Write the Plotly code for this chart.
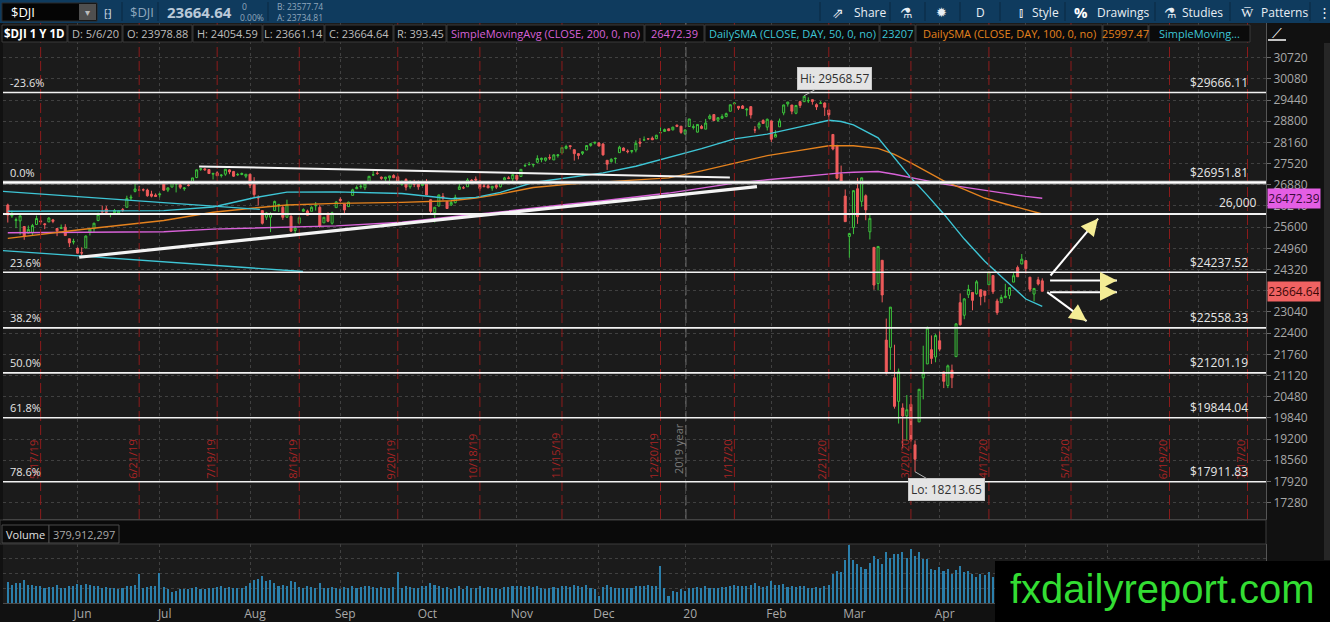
import pandas as pd
import plotly.graph_objects as go

W, H = 1330, 622
FONT = "Open Sans"
BG = "#1b1b1b"
GRID = "#404040"
GREEN = "#3cc43c"
RED = "#ef5b5b"
CYAN = "#3ec6d6"
ORANGE = "#e4821e"
MAGENTA = "#d862d8"
TXT = "#bdbdbd"

# trading calendar (weekends and NYSE holidays skipped), chart runs into late July 2020
HOLIDAYS = ["2019-05-27", "2019-07-04", "2019-09-02", "2019-11-28", "2019-12-25",
            "2020-01-01", "2020-01-20", "2020-02-17", "2020-04-10", "2020-05-25", "2020-07-03"]
EXPIRATIONS = ["2019-05-17", "2019-06-21", "2019-07-19", "2019-08-16", "2019-09-20",
               "2019-10-18", "2019-11-15", "2019-12-20", "2020-01-17", "2020-02-21",
               "2020-03-20", "2020-04-17", "2020-05-15", "2020-06-19", "2020-07-17"]

# $DJI daily candles, 5/7/19 .. 5/6/20
opens = [
    # May 19
    26270, 25940, 25800, 25790, 25620, 25420, 25430, 25680, 25790, 25700, 25760, 25820, 25560, 25560, 25600, 25250, 25150, 24960,
    # Jun
    24830, 24970, 25450, 25550, 25800, 26080, 26150, 26000, 26040, 26030, 26130, 26200, 26480, 26680, 26720, 26730, 26720, 26600, 26570, 26580,
    # Jul
    26960, 26720, 26810, 26900, 26880, 26760, 26870, 26930, 27100, 27350, 27360, 27340, 27200, 27240, 27160, 27200, 27330, 27280, 27180, 27190, 27140, 27200,
    # Aug
    26900, 26500, 26100, 25900, 25900, 26100, 26280, 26200, 25900, 25930, 25500, 25720, 26080, 26090, 26080, 26250, 26200, 25730, 26010, 25720, 26190, 26440,
    # Sep
    26300, 26220, 26560, 26760, 26820, 26790, 26940, 27180, 27230, 27110, 27060, 27090, 27160, 27120, 26890, 27040, 26820, 26980, 26920, 26860,
    # Oct
    26960, 26430, 26040, 26240, 26530, 26380, 26270, 26340, 26740, 26790, 26820, 27020, 27050, 26990, 26850, 26850, 26780, 26860, 26820, 27030, 27090, 27060, 27170,
    # Nov
    27130, 27450, 27490, 27480, 27560, 27640, 27620, 27700, 27630, 27760, 27840, 27980, 28060, 27940, 27820, 27830, 27930, 28070, 28140, 28140,
    # Dec
    28110, 27620, 27580, 27670, 27850, 27990, 27900, 27890, 27930, 28170, 28230, 28270, 28290, 28270, 28450, 28490, 28570, 28540, 28680, 28650, 28420,
    # Jan 20
    28640, 28610, 28470, 28640, 28560, 28880, 29000, 28830, 28890, 28940, 29100, 29320, 29250, 29260, 29140, 29240, 28540, 28620, 28820, 28620, 28810,
    # Feb
    28320, 28630, 29050, 29320, 29290, 29040, 29390, 29390, 29410, 29450, 29300, 29340, 29350, 29140, 28400, 28050, 27210, 26540, 25320,
    # Mar
    25590, 26760, 26380, 26550, 25460, 24990, 23900, 24600, 22190, 21970, 21050, 20340, 20140, 19900, 20250, 19030, 19720, 21050, 21470, 21900, 21680, 22170,
    # Apr
    21230, 20820, 21280, 21690, 23320, 22940, 23560, 23630, 23590, 23710, 23670, 23860, 24140, 23370, 23320, 23470, 23540, 23940, 24380, 24490, 24590,
    # May 20
    24090, 23580, 24010, 23978.88,
]
highs = [
    26310, 26100, 25890, 25990, 25620, 25650, 25700, 25950, 25920, 25720, 25900, 25850, 25570, 25680, 25690, 25250, 25250, 24990,
    24990, 25350, 25560, 25730, 26040, 26250, 26240, 26030, 26150, 26100, 26180, 26550, 26580, 26910, 26850, 26770, 26760, 26700, 26620, 26640,
    27000, 26800, 26970, 26960, 26920, 26810, 26950, 27090, 27340, 27380, 27390, 27350, 27240, 27290, 27200, 27350, 27350, 27300, 27240, 27250, 27200, 27210,
    27110, 26560, 26100, 26050, 26050, 26400, 26300, 26250, 26430, 25960, 25640, 25930, 26170, 26130, 26230, 26360, 26270, 25900, 26050, 26070, 26390, 26500,
    26300, 26370, 26760, 26860, 26900, 26910, 27140, 27300, 27290, 27130, 27120, 27150, 27200, 27160, 27010, 27080, 27020, 27030, 27010, 27000,
    27050, 26450, 26210, 26580, 26630, 26390, 26400, 26580, 27000, 26840, 27080, 27050, 27130, 27020, 26900, 26950, 26840, 26900, 26970, 27120, 27140, 27200, 27170,
    27350, 27520, 27570, 27500, 27770, 27700, 27700, 27800, 27800, 27800, 28010, 28090, 28070, 27950, 27840, 27890, 28070, 28130, 28170, 28170,
    28140, 27620, 27680, 27700, 28060, 28010, 27950, 27920, 28220, 28290, 28340, 28290, 28340, 28390, 28610, 28580, 28580, 28630, 28700, 28650, 28550,
    28870, 28710, 28710, 28690, 28870, 29010, 29010, 28910, 29010, 29060, 29300, 29370, 29250, 29290, 29200, 29250, 28650, 28780, 28860, 28880, 28820,
    28530, 28880, 29300, 29380, 29290, 29280, 29420, 29568.57, 29520, 29460, 29340, 29410, 29370, 29140, 28400, 28090, 27460, 26740, 25430,
    26710, 27090, 27100, 26590, 25990, 24990, 25020, 24600, 22840, 23190, 22050, 21330, 20280, 20530, 20530, 19160, 20700, 22020, 22600, 22330, 22380, 22450,
    21230, 21450, 21450, 22700, 23600, 23460, 23860, 23630, 24000, 23710, 23670, 24260, 24140, 23440, 23560, 23890, 23790, 24220, 24440, 24790, 24590,
    24090, 23760, 24100, 24054.59,
]
lows = [
    25740, 25880, 25570, 25370, 25220, 25420, 25360, 25670, 25690, 25540, 25750, 25720, 25330, 25540, 25340, 25000, 25080, 24810,
    24680, 24970, 25350, 25450, 25780, 26040, 25980, 25900, 26030, 25980, 26060, 26200, 26420, 26650, 26690, 26680, 26520, 26500, 26520, 26500,
    26700, 26660, 26810, 26650, 26750, 26700, 26830, 26900, 27080, 27300, 27300, 27210, 27040, 27150, 27100, 27150, 27200, 27120, 27150, 27170, 27080, 26780,
    26500, 26250, 25680, 25820, 25450, 26100, 26060, 25820, 25880, 25460, 25340, 25720, 26070, 25960, 26080, 26100, 25580, 25730, 25750, 25680, 26190, 26350,
    25980, 26220, 26560, 26750, 26760, 26720, 26920, 27150, 27180, 27030, 27000, 26880, 27080, 26880, 26850, 26710, 26760, 26810, 26730, 26850,
    26570, 26020, 25740, 26220, 26410, 26160, 26240, 26320, 26740, 26750, 26820, 26930, 26990, 26700, 26800, 26780, 26700, 26750, 26800, 27030, 27050, 26980, 26950,
    27120, 27420, 27460, 27410, 27530, 27560, 27580, 27630, 27630, 27700, 27840, 27950, 27950, 27610, 27650, 27780, 27930, 28030, 28100, 28040,
    27760, 27330, 27550, 27530, 27850, 27900, 27830, 27830, 27860, 28020, 28230, 28230, 28230, 28260, 28400, 28480, 28500, 28520, 28620, 28420, 28380,
    28640, 28550, 28460, 28560, 28560, 28850, 28800, 28780, 28870, 28920, 29100, 29280, 29140, 29170, 28950, 28880, 28440, 28550, 28720, 28520, 28170,
    28320, 28630, 28980, 29240, 29010, 29010, 29200, 29380, 29350, 29300, 29140, 29320, 28960, 28800, 27920, 27050, 26910, 25760, 24680,
    25390, 25700, 26220, 25810, 25230, 23710, 23690, 23330, 21150, 21290, 20120, 19670, 18920, 19140, 19120, 18213.65, 19720, 20400, 21470, 21470, 21520, 21850,
    20740, 20740, 20740, 21690, 22630, 22820, 23460, 23090, 23560, 23240, 23330, 23860, 23580, 22950, 23320, 23470, 23430, 23940, 24100, 24480, 24200,
    23650, 23360, 23840, 23661.14,
]
closes = [
    25965, 25967, 25828, 25942, 25324, 25532, 25648, 25862, 25764, 25679, 25877, 25776, 25490, 25586, 25347, 25126, 25170, 24815,
    24820, 25332, 25540, 25720, 25984, 26062, 26049, 26005, 26106, 26090, 26112, 26466, 26504, 26753, 26719, 26727, 26548, 26537, 26526, 26600,
    26718, 26787, 26966, 26922, 26806, 26784, 26860, 27088, 27332, 27359, 27336, 27220, 27223, 27154, 27172, 27349, 27270, 27140, 27192, 27221, 27198, 26864,
    26583, 26485, 25718, 26030, 26008, 26378, 26287, 25897, 26280, 25479, 25579, 25886, 26136, 25962, 26202, 26252, 25629, 25899, 25778, 26036, 26362, 26403,
    26118, 26355, 26728, 26797, 26835, 26909, 27137, 27182, 27220, 27076, 27111, 27147, 27094, 26935, 26950, 26808, 26970, 26891, 26820, 26917,
    26573, 26079, 26202, 26573, 26478, 26164, 26347, 26497, 26817, 26787, 27025, 27002, 27026, 26770, 26827, 26788, 26834, 26806, 26958, 27091, 27071, 27186, 27046,
    27347, 27462, 27493, 27493, 27675, 27681, 27691, 27691, 27784, 27782, 28005, 28036, 28036, 27821, 27767, 27876, 28066, 28122, 28164, 28051,
    27783, 27503, 27650, 27678, 28015, 27910, 27882, 27911, 28132, 28135, 28235, 28268, 28239, 28377, 28455, 28551, 28516, 28621, 28645, 28462, 28538,
    28868, 28634, 28703, 28584, 28745, 28957, 28823, 28907, 28940, 29030, 29297, 29348, 29196, 29186, 29160, 28990, 28536, 28723, 28734, 28859, 28256,
    28400, 28808, 29291, 29380, 29103, 29276, 29277, 29551, 29424, 29398, 29232, 29348, 29220, 28992, 27961, 27081, 26957, 25767, 25409,
    26703, 25917, 27091, 26121, 25865, 23851, 25018, 23553, 21200, 23186, 20189, 21237, 19899, 20087, 19174, 18592, 20705, 21200, 22552, 21637, 22327, 21917,
    20944, 21413, 21053, 22680, 22654, 23434, 23719, 23390, 23950, 23505, 23538, 24242, 23650, 23019, 23476, 23516, 23775, 24134, 24102, 24634, 24346,
    23724, 23750, 23883, 23664.64,
]
# volume, millions of shares
volume_m = [
    340, 300, 320, 330, 380, 300, 290, 270, 280, 250, 260, 260, 290, 250, 240, 280, 270, 310,
    290, 310, 300, 280, 270, 250, 260, 250, 240, 230, 240, 270, 280, 300, 480, 250, 260, 280, 270, 490,
    260, 230, 180, 200, 220, 220, 230, 240, 260, 230, 220, 240, 250, 260, 270, 250, 260, 250, 240, 250, 270, 330,
    380, 390, 440, 360, 380, 330, 280, 300, 270, 360, 340, 260, 250, 270, 260, 250, 330, 240, 250, 260, 250, 230,
    260, 250, 270, 240, 260, 280, 270, 260, 250, 260, 240, 250, 260, 510, 250, 280, 260, 240, 250, 270,
    280, 320, 300, 270, 240, 260, 230, 250, 280, 230, 270, 250, 240, 280, 240, 260, 250, 250, 230, 260, 260, 280, 270,
    280, 260, 270, 260, 270, 240, 230, 250, 260, 240, 280, 270, 260, 300, 270, 260, 290, 250, 220, 110,
    260, 290, 260, 240, 250, 240, 250, 240, 280, 270, 280, 290, 270, 270, 600, 250, 110, 200, 180, 220, 200,
    250, 240, 260, 250, 270, 250, 240, 250, 260, 260, 270, 300, 270, 280, 270, 300, 330, 270, 260, 280, 350,
    290, 300, 310, 260, 280, 260, 270, 280, 250, 250, 260, 250, 270, 300, 470, 520, 500, 700, 950,
    700, 640, 580, 560, 650, 760, 720, 640, 830, 740, 800, 790, 830, 740, 880, 760, 830, 720, 710, 560, 530, 580,
    520, 550, 480, 530, 600, 500, 520, 480, 420, 480, 450, 500, 420, 400, 430, 390, 380, 400, 410, 460, 480,
    420, 360, 380, 379.912297,
]

# moving averages
sma_dates = ["2019-05-07", "2019-06-03", "2019-07-01", "2019-07-18", "2019-08-01", "2019-08-13",
             "2019-08-29", "2019-09-23", "2019-10-09", "2019-10-17", "2019-10-25", "2019-11-06",
             "2019-11-19", "2019-12-02", "2019-12-12", "2019-12-24", "2020-01-07", "2020-01-17",
             "2020-01-30", "2020-02-11", "2020-02-21", "2020-02-26", "2020-03-02", "2020-03-10",
             "2020-03-16", "2020-03-20", "2020-03-26", "2020-04-01", "2020-04-08", "2020-04-16",
             "2020-04-23", "2020-04-30", "2020-05-06"]
sma50 = [26080, 26080, 26100, 26210, 26490, 26660, 26665, 26615, 26460, 26500, 26650, 26950,
         27110, 27240, 27440, 27710, 27970, 28265, 28410, 28630, 28830, 28790, 28690, 28300,
         27690, 27090, 26560, 26000, 25240, 24570, 24000, 23430, 23207]
sma100 = [25260, 25530, 25800, 26050, 26180, 26270, 26320, 26350, 26400, 26480, 26600, 26800,
          26900, 26960, 27030, 27090, 27300, 27530, 27760, 27920, 28060, 28060, 28060, 27980,
          27800, 27540, 27270, 27000, 26740, 26480, 26300, 26120, 25997.47]
sma200 = [25430, 25440, 25460, 25540, 25570, 25600, 25640, 25750, 25920, 25990, 26060, 26180,
          26300, 26400, 26520, 26630, 26780, 26930, 27030, 27120, 27220, 27240, 27260, 27280,
          27200, 27110, 27000, 26900, 26800, 26720, 26620, 26530, 26472.39]

fib_levels = [29666.11, 26951.81, 24237.52, 22558.33, 21201.19, 19844.04, 17911.83]
fib_names = ["-23.6%", "0.0%", "23.6%", "38.2%", "50.0%", "61.8%", "78.6%"]
level_26k = 26000
price_ticks = list(range(17280, 30721, 640))

calendar = [d for d in pd.bdate_range("2019-05-07", "2020-07-31")
            if d.strftime("%Y-%m-%d") not in HOLIDAYS]
day_index = {d.strftime("%Y-%m-%d"): i for i, d in enumerate(calendar)}
x_idx = list(range(len(closes)))


def px(x):
    return x / W


def py(y):
    return 1 - y / H


X_RANGE = [-1.17, 306.5]
Y_RANGE = [16787, 31766]

fig = go.Figure()

fig.add_trace(go.Candlestick(
    x=x_idx, open=opens, high=highs, low=lows, close=closes,
    increasing=dict(line=dict(color=GREEN, width=1), fillcolor=BG),
    decreasing=dict(line=dict(color=RED, width=1), fillcolor=RED),
    whiskerwidth=0, hoverinfo="skip", showlegend=False))

sma_x = [day_index[d] for d in sma_dates]
for vals, color in [(sma200, MAGENTA), (sma100, ORANGE), (sma50, CYAN)]:
    fig.add_trace(go.Scatter(x=sma_x, y=vals, mode="lines", line=dict(color=color, width=1.4),
                             hoverinfo="skip", showlegend=False))

fig.add_trace(go.Bar(x=x_idx, y=volume_m, marker=dict(color="#2b7fab", line=dict(width=0)),
                     width=0.38, xaxis="x2", yaxis="y2", hoverinfo="skip", showlegend=False))

# month gridlines sit one bar before the first session of the month;
# labels from May 2020 on sit under the watermark box, so they stay blank
month_pos, month_txt = [], []
for i in range(1, len(calendar)):
    if calendar[i].month != calendar[i - 1].month:
        month_pos.append(i - 1)
        if i >= len(closes) - 6:
            month_txt.append("")
        else:
            month_txt.append("20" if calendar[i].month == 1 else calendar[i].strftime("%b"))

# the last-close tag covers the 23680 label, as in the platform
last_tag_tick = 23680
price_text = ["" if v == last_tag_tick else str(v) for v in price_ticks]

shapes = []
annos = []


def line(x0, y0, x1, y1, color, width=1, dash="solid", xref="x", yref="y"):
    shapes.append(dict(type="line", x0=x0, y0=y0, x1=x1, y1=y1, xref=xref, yref=yref,
                       line=dict(color=color, width=width, dash=dash), layer="above"))


def rect(x0, y0, x1, y1, fill, border=None):
    shapes.append(dict(type="rect", xref="paper", yref="paper", x0=px(x0), x1=px(x1),
                       y0=py(y1), y1=py(y0), fillcolor=fill, layer="above",
                       line=dict(color=border or fill, width=1 if border else 0)))


def text(x, y, s, color=TXT, size=11, xanchor="left", **kw):
    annos.append(dict(x=px(x), y=py(y), xref="paper", yref="paper", text=s, showarrow=False,
                      xanchor=xanchor, yanchor="middle", font=dict(family=FONT, size=size, color=color), **kw))


# option expiration markers and year break
for d in EXPIRATIONS:
    i = day_index[d]
    line(i, py(519), i, py(23), "#8e1b1b", 1, "10px,4px", yref="paper")
    t = pd.Timestamp(d)
    annos.append(dict(x=i - 1.8, y=py(481), xref="x", yref="paper", text=f"{t.month}/{t.day}/{t.year % 100}",
                      textangle=-90, showarrow=False, xanchor="center",
                      font=dict(family=FONT, size=11, color="#a82424")))
yb = day_index["2020-01-02"] - 0.8
line(yb, py(519), yb, py(23), "#6d6d6d", 1, "10px,4px", yref="paper")
annos.append(dict(x=yb - 1.8, y=py(476), xref="x", yref="paper", text="2019 year", textangle=-90,
                  showarrow=False, xanchor="center", font=dict(family=FONT, size=11, color="#7a7a7a")))

# cyan channel drawing
line(-1.2, 26681, 61.4, 26139, CYAN, 1.3)
line(-1.2, 24894, 71.9, 24261, CYAN, 1.3)

# fibonacci retracement levels
for lvl, name in zip(fib_levels, fib_names):
    if name == "0.0%":
        line(px(3), lvl, px(1266), lvl, "#c8c8c8", 3.5, xref="paper")
        line(px(3), lvl, px(1266), lvl, "#ffffff", 1.2, xref="paper")
    else:
        line(px(3), lvl, px(1266), lvl, "#f2f2f2", 1.6, xref="paper")
    annos.append(dict(x=px(8), y=lvl, xref="paper", yref="y", yshift=10, text=name, showarrow=False,
                      xanchor="left", font=dict(family=FONT, size=11, color="#e6e6e6")))
    annos.append(dict(x=px(1250), y=lvl, xref="paper", yref="y", yshift=10, text=f"${lvl:.2f}",
                      showarrow=False, xanchor="right", font=dict(family=FONT, size=12, color="#e6e6e6")))
line(px(3), level_26k, px(1266), level_26k, "#f2f2f2", 2, xref="paper")
annos.append(dict(x=px(1259), y=level_26k, xref="paper", yref="y", yshift=11, text=f"{level_26k:,}",
                  showarrow=False, xanchor="right", font=dict(family=FONT, size=12, color="#e6e6e6")))

# white trend lines
line(46.6, 27435, 175.9, 27103, "#f4f4f4", 2)
line(17.4, 24692, 182.5, 26823, "#f4f4f4", 3.2)

# scenario arrows: white shaft, pale yellow head
arrows = [(254.0, 24141, 265.6, 25859, -8.9, 10.8),
          (253.9, 23990, 270.2, 23990, -14, 0),
          (253.9, 23637, 270.2, 23637, -14, 0),
          (253.2, 23637, 262.8, 22763, -11.3, -8.3)]
for x0, y0, x1, y1, ax, ay in arrows:
    line(x0, y0, x1, y1, "#ffffff", 2)
    annos.append(dict(x=x1, y=y1, xref="x", yref="y", ax=ax, ay=ay, text="", showarrow=True,
                      arrowhead=2, arrowsize=1.7, arrowwidth=2, arrowcolor="#f4ec95", standoff=0))

# high / low callouts
hi_i = day_index["2020-02-12"]
lo_i = day_index["2020-03-23"]
for xi, yv, label, ax, ay in [(hi_i, max(highs), f"Hi: {max(highs):.2f}", 30, -17),
                              (lo_i, min(lows), f"Lo: {min(lows):.2f}", 31, 18)]:
    annos.append(dict(x=xi, y=yv, xref="x", yref="y", ax=ax, ay=ay, text=label, showarrow=True,
                      arrowhead=0, arrowwidth=1, arrowcolor="#b5b5b5", bgcolor="#e4e4e4",
                      bordercolor="#c8c8c8", borderpad=2, font=dict(family=FONT, size=12, color="#303030")))

# last value tags on the price axis
for val, fill, fc in [(sma200[-1], "#e45ee4", "#3a0a3a"), (closes[-1], "#f06262", "#3a0808")]:
    annos.append(dict(x=px(1294), y=val, xref="paper", yref="y", text=f"{val:.2f}", showarrow=False,
                      xanchor="center", bgcolor=fill, borderpad=1, width=50,
                      font=dict(family=FONT, size=12, color=fc)))

# ---- window chrome ----
rect(0, 0, W, 23, "#0f3b5e")
rect(2, 3, 97, 21, "#050505", "#2a2a2a")
rect(79, 4, 96, 20, "#4f4f4f")
text(9, 12, "$DJI", "#ffffff", 13)
text(87.5, 12, "▾", "#bbbbbb", 10, "center")
text(108, 12, "⁅⁆", "#d0d8e0", 11, "center")
text(128, 12, "$DJI", "#8fa7bd", 13)
text(165, 12, "<b>23664.64</b>", "#b9c9d8", 15)
text(240, 6, "0", "#8fa7bd", 8.5)
text(238, 17.5, "0.00%", "#8fa7bd", 8.5)
text(275, 6, "B: 23577.74", "#8fa7bd", 8.5)
text(275, 17.5, "A: 23734.81", "#8fa7bd", 8.5)
for xs in [122, 158, 268, 820, 890, 925, 960, 1000, 1065, 1155, 1230, 1310]:
    line(px(xs), py(2), px(xs), py(21), "#0a2840", 1, xref="paper", yref="paper")
text(838, 12, "⇗", "#e8eef4", 14, "center")
text(852, 12, "Share", "#e8eef4", 12)
text(906, 12, "⚗", "#e8eef4", 14, "center")
text(942, 12, "✹", "#e8eef4", 13, "center")
text(980, 12, "D", "#e8eef4", 12, "center")
text(1021, 12, "⫾", "#e8eef4", 13, "center")
text(1030, 12, "Style", "#e8eef4", 12)
text(1081, 12, "<b>%</b>", "#ffffff", 15, "center")
text(1095, 12, "Drawings", "#e8eef4", 12)
text(1170, 12, "⚗", "#e8eef4", 14, "center")
text(1180, 12, "Studies", "#e8eef4", 12)
text(1247, 12, "W̅", "#e8eef4", 13, "center")
text(1259, 12, "Patterns", "#e8eef4", 12)
text(1324, 12, "⋮", "#e8eef4", 13, "center")

# study header row
header = [
    (2, 67, "<b>$DJI 1 Y 1D</b>", "#ffffff"),
    (68, 122, "D: 5/6/20", TXT),
    (123, 192, f"O: {opens[-1]:.2f}", TXT),
    (193, 262, f"H: {highs[-1]:.2f}", TXT),
    (263, 324, f"L: {lows[-1]:.2f}", TXT),
    (325, 393, f"C: {closes[-1]:.2f}", TXT),
    (394, 446, f"R: {highs[-1] - lows[-1]:.2f}", TXT),
    (447, 644, "SimpleMovingAvg (CLOSE, 200, 0, no)", MAGENTA),
    (645, 704, f"{sma200[-1]:.2f}", MAGENTA),
    (705, 879, "DailySMA (CLOSE, DAY, 50, 0, no)", CYAN),
    (880, 915, f"{sma50[-1]:.0f}", CYAN),
    (916, 1102, "DailySMA (CLOSE, DAY, 100, 0, no)", ORANGE),
    (1103, 1148, f"{sma100[-1]:.2f}", ORANGE),
    (1149, 1250, "SimpleMoving...", CYAN),
]
for x0, x1, s, c in header:
    rect(x0, 25, x1, 42, "#0b0b0b", "#3a3a3a")
    text((x0 + x1) / 2, 33.5, s, c, 11.5 if x0 == 2 else 11, "center")
text(1277, 32, "⟋", "#ffffff", 14, "center")
line(px(1268), py(40), px(1286), py(40), "#ffffff", 1.5, xref="paper", yref="paper")

# volume header row
rect(0, 520, 1266, 544, "#0a0a0a", "#3c3c3c")
rect(2, 525, 49, 543, "#0a0a0a", "#4a4a4a")
rect(49, 525, 119, 543, "#0a0a0a", "#4a4a4a")
text(25.5, 534, "Volume", "#e0e0e0", 11, "center")
text(84, 534, f"{volume_m[-1] * 1e6:,.0f}", "#a8a8a8", 11, "center")

# scrollbar strip and watermark
rect(1324, 43, 1330, 560, "#262626")
rect(995, 561, 1330, 622, "#000000")
annos.append(dict(x=px(1162), y=py(589), xref="paper", yref="paper", text="fxdailyreport.com",
                  showarrow=False, xanchor="center", yanchor="middle",
                  font=dict(family="Liberation Sans", size=40, color="#33dd33")))

axis_common = dict(range=X_RANGE, domain=[px(3), px(1266)], tickvals=month_pos,
                   showgrid=True, gridcolor=GRID, griddash="dot", gridwidth=1, zeroline=False,
                   fixedrange=True)
fig.update_layout(
    width=W, height=H, margin=dict(l=0, r=0, t=0, b=0),
    paper_bgcolor="#111111", plot_bgcolor=BG, hovermode=False, showlegend=False,
    bargap=0, font=dict(family=FONT, color=TXT),
    xaxis=dict(anchor="y", showticklabels=False, ticks="", rangeslider=dict(visible=False),
               showline=True, linecolor="#4a4a4a", **axis_common),
    xaxis2=dict(anchor="y2", ticktext=month_txt, ticks="", ticklabelshift=5,
                tickfont=dict(family=FONT, size=12, color="#a8a8a8"), matches="x",
                showline=True, linecolor="#4a4a4a", **axis_common),
    yaxis=dict(domain=[py(519), py(23)], range=Y_RANGE, side="right", anchor="x",
               tickvals=price_ticks, ticktext=price_text, ticks="outside", ticklen=4,
               tickcolor="#6a6a6a", tickfont=dict(family=FONT, size=12, color="#a8a8a8"),
               showgrid=True, gridcolor=GRID, griddash="dot", zeroline=False,
               showline=True, linecolor="#555555", fixedrange=True),
    yaxis2=dict(domain=[py(603), py(544)], range=[0, 960], side="right", anchor="x2",
                tickvals=[240, 485, 730], showticklabels=False, showgrid=True, gridcolor=GRID,
                griddash="dot", zeroline=False, showline=True, linecolor="#555555", fixedrange=True),
    shapes=shapes, annotations=annos,
)

# page body margin off so the chart fills the window exactly
fig.write_html("out.html", config={"displayModeBar": False},
               post_script="document.body.style.margin='0px';document.body.style.overflow='hidden';")
